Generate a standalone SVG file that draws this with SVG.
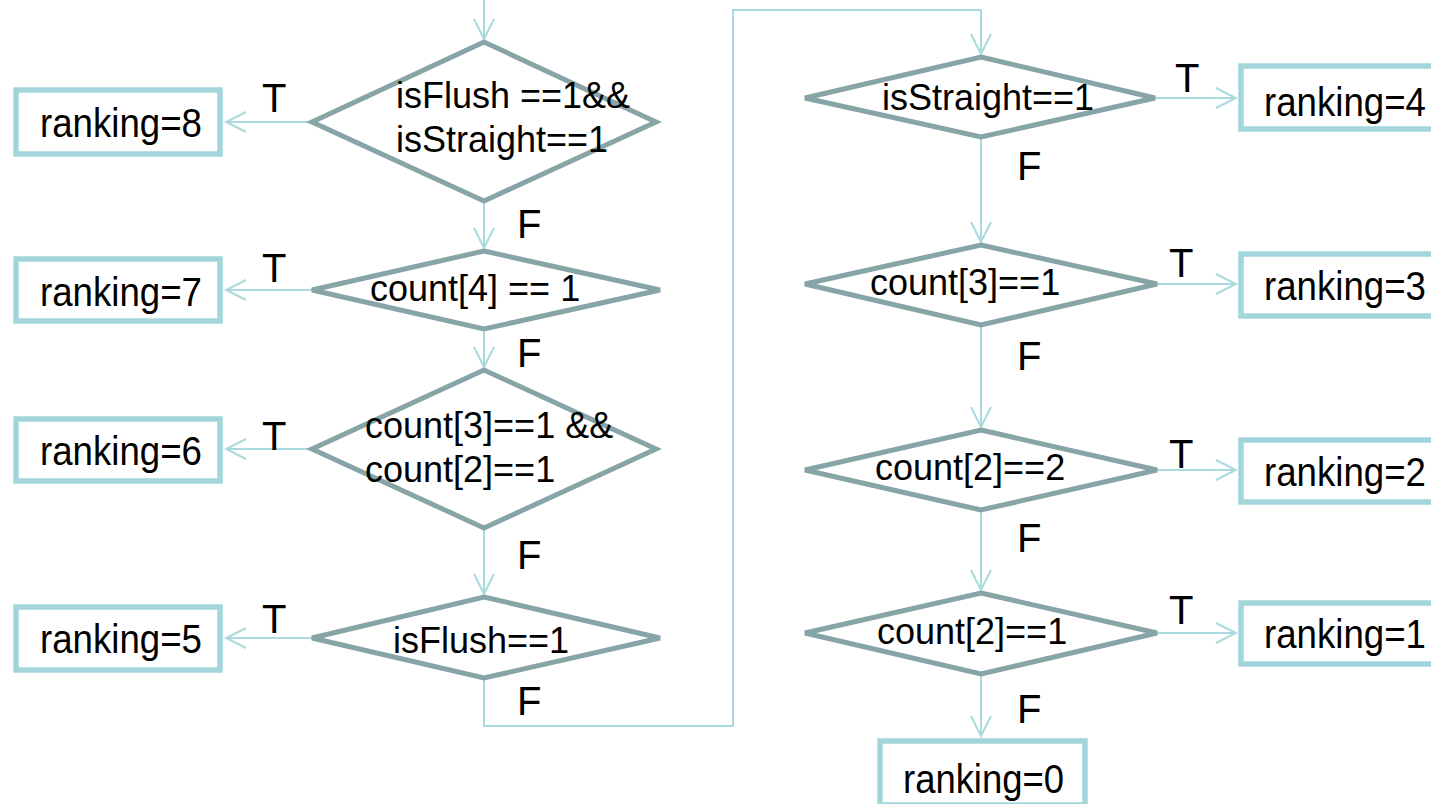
<svg xmlns="http://www.w3.org/2000/svg" width="1431" height="804" viewBox="0 0 1431 804">
  <style>
    .bg { fill: #ffffff; }
    .dec { fill: #ffffff; stroke: #87a4a7; stroke-width: 5; stroke-linejoin: miter; }
    .box { fill: #ffffff; stroke: #a2d6db; stroke-width: 5.5; }
    .edge { fill: none; stroke: #a9dadd; stroke-width: 2; }
    .cond { font-family: "Liberation Sans", Arial, sans-serif; font-size: 36px; fill: #000000; }
    .res { font-family: "Liberation Sans", Arial, sans-serif; font-size: 40px; fill: #000000; }
    .lbl { font-family: "Liberation Sans", Arial, sans-serif; font-size: 40px; fill: #000000; }
  </style>
  <defs>
    <marker id="arrow" markerUnits="userSpaceOnUse" markerWidth="24" markerHeight="24" viewBox="-22 -12 24 24" refX="0" refY="0" orient="auto">
      <path d="M-20,-10 L0,0 L-20,10" fill="none" stroke="#a9dadd" stroke-width="2"/>
    </marker>
  </defs>

  <rect class="bg" x="0" y="0" width="1431" height="804"/>

  <!-- connectors and branch labels -->
  <g id="connectors">
    <path class="edge" d="M484,0 V39" marker-end="url(#arrow)"/>
    <path class="edge" d="M312,122 H226" marker-end="url(#arrow)"/>
    <path class="edge" d="M484,201 V248" marker-end="url(#arrow)"/>
    <path class="edge" d="M312,290 H226" marker-end="url(#arrow)"/>
    <path class="edge" d="M484,329 V367" marker-end="url(#arrow)"/>
    <path class="edge" d="M312,449 H226" marker-end="url(#arrow)"/>
    <path class="edge" d="M484,528 V594" marker-end="url(#arrow)"/>
    <path class="edge" d="M312,638 H226" marker-end="url(#arrow)"/>
    <path class="edge" d="M484,678 V726 H733 V10 H981 V54" marker-end="url(#arrow)"/>
    <path class="edge" d="M1155,98 H1236" marker-end="url(#arrow)"/>
    <path class="edge" d="M981,137 V242" marker-end="url(#arrow)"/>
    <path class="edge" d="M1157,284 H1236" marker-end="url(#arrow)"/>
    <path class="edge" d="M981,325 V427" marker-end="url(#arrow)"/>
    <path class="edge" d="M1157,470 H1236" marker-end="url(#arrow)"/>
    <path class="edge" d="M981,510 V590" marker-end="url(#arrow)"/>
    <path class="edge" d="M1157,633 H1236" marker-end="url(#arrow)"/>
    <path class="edge" d="M981,674 V736" marker-end="url(#arrow)"/>

    <text class="lbl" x="262" y="112">T</text>
    <text class="lbl" x="262" y="282">T</text>
    <text class="lbl" x="262" y="450">T</text>
    <text class="lbl" x="262" y="633">T</text>
    <text class="lbl" x="1175" y="92">T</text>
    <text class="lbl" x="1169" y="277">T</text>
    <text class="lbl" x="1169" y="468">T</text>
    <text class="lbl" x="1169" y="624">T</text>

    <text class="lbl" x="517" y="238">F</text>
    <text class="lbl" x="517" y="367">F</text>
    <text class="lbl" x="517" y="569">F</text>
    <text class="lbl" x="517" y="715">F</text>
    <text class="lbl" x="1017" y="180">F</text>
    <text class="lbl" x="1017" y="370">F</text>
    <text class="lbl" x="1017" y="552">F</text>
    <text class="lbl" x="1017" y="723">F</text>
  </g>

  <!-- left column: decisions -->
  <g id="dec-flush-straight">
    <polygon class="dec" points="484,42 656,122 484,201 312,122"/>
    <text class="cond" x="396" y="108">isFlush ==1&amp;&amp;</text>
    <text class="cond" x="396" y="152">isStraight==1</text>
  </g>
  <g id="dec-count4">
    <polygon class="dec" points="484,251 660,290 484,329 312,290"/>
    <text class="cond" x="370" y="301">count[4] == 1</text>
  </g>
  <g id="dec-full-house">
    <polygon class="dec" points="484,370 656,449 484,528 312,449"/>
    <text class="cond" x="365" y="438">count[3]==1 &amp;&amp;</text>
    <text class="cond" x="365" y="482">count[2]==1</text>
  </g>
  <g id="dec-flush">
    <polygon class="dec" points="484,597 660,638 484,678 312,638"/>
    <text class="cond" x="393" y="653">isFlush==1</text>
  </g>

  <!-- right column: decisions -->
  <g id="dec-straight">
    <polygon class="dec" points="981,57 1155,98 981,137 805,98"/>
    <text class="cond" x="882" y="110">isStraight==1</text>
  </g>
  <g id="dec-count3">
    <polygon class="dec" points="981,245 1157,284 981,325 805,284"/>
    <text class="cond" x="870" y="295">count[3]==1</text>
  </g>
  <g id="dec-two-pair">
    <polygon class="dec" points="981,430 1157,470 981,510 805,470"/>
    <text class="cond" x="875" y="480">count[2]==2</text>
  </g>
  <g id="dec-one-pair">
    <polygon class="dec" points="981,593 1157,633 981,674 805,633"/>
    <text class="cond" x="877" y="644">count[2]==1</text>
  </g>

  <!-- results -->
  <g id="rank-8">
    <rect class="box" x="16" y="90" width="204" height="64"/>
    <text class="res" x="40" y="137" textLength="162" lengthAdjust="spacingAndGlyphs">ranking=8</text>
  </g>
  <g id="rank-7">
    <rect class="box" x="16" y="259" width="204" height="62"/>
    <text class="res" x="40" y="306" textLength="162" lengthAdjust="spacingAndGlyphs">ranking=7</text>
  </g>
  <g id="rank-6">
    <rect class="box" x="16" y="419" width="204" height="62"/>
    <text class="res" x="40" y="465" textLength="162" lengthAdjust="spacingAndGlyphs">ranking=6</text>
  </g>
  <g id="rank-5">
    <rect class="box" x="16" y="607" width="204" height="63"/>
    <text class="res" x="40" y="653" textLength="162" lengthAdjust="spacingAndGlyphs">ranking=5</text>
  </g>
  <g id="rank-4">
    <rect class="box" x="1241" y="66" width="204" height="63"/>
    <text class="res" x="1264" y="116" textLength="162" lengthAdjust="spacingAndGlyphs">ranking=4</text>
  </g>
  <g id="rank-3">
    <rect class="box" x="1241" y="254" width="204" height="62"/>
    <text class="res" x="1264" y="300" textLength="162" lengthAdjust="spacingAndGlyphs">ranking=3</text>
  </g>
  <g id="rank-2">
    <rect class="box" x="1241" y="440" width="204" height="62"/>
    <text class="res" x="1264" y="486" textLength="162" lengthAdjust="spacingAndGlyphs">ranking=2</text>
  </g>
  <g id="rank-1">
    <rect class="box" x="1241" y="603" width="204" height="61"/>
    <text class="res" x="1264" y="648" textLength="162" lengthAdjust="spacingAndGlyphs">ranking=1</text>
  </g>
  <g id="rank-0">
    <rect class="box" x="880" y="741" width="205" height="64"/>
    <text class="res" x="903" y="793" textLength="161" lengthAdjust="spacingAndGlyphs">ranking=0</text>
  </g>
</svg>
